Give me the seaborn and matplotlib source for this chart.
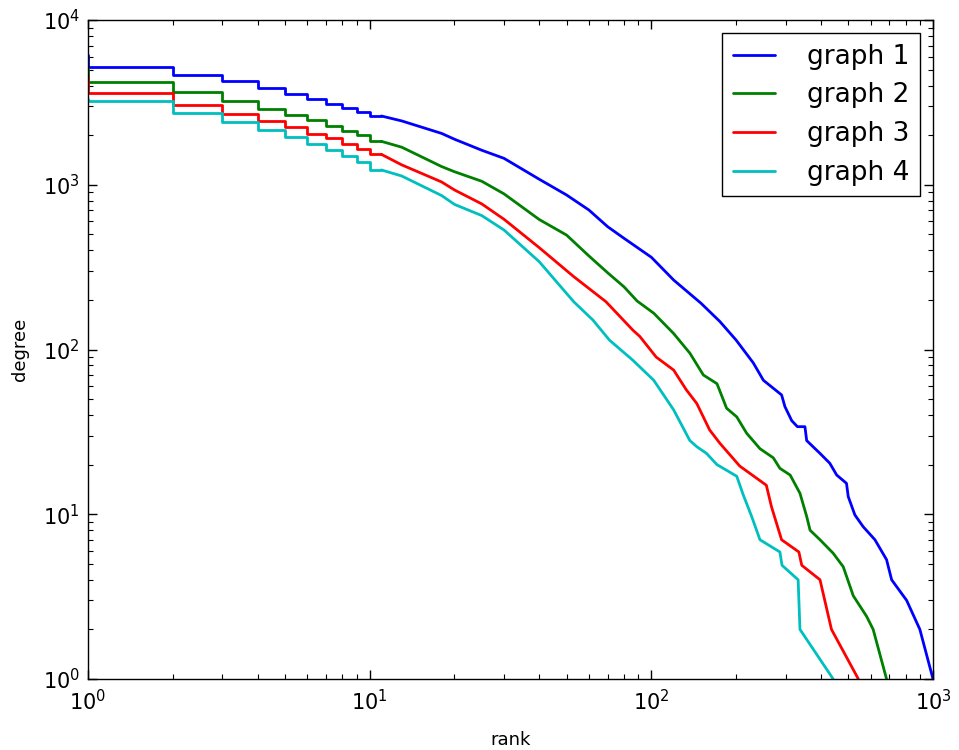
import matplotlib
matplotlib.use("Agg")
import matplotlib.pyplot as plt
import seaborn as sns

# rank / degree readings for the four graphs (log-log)
head_rank = list(range(1, 12))

g1_head = [6130, 5210, 4620, 4240, 3850, 3540, 3300, 3090, 2920, 2765, 2615]
g1_rank = [13, 18, 20, 25, 30, 40, 50, 60, 70, 80, 100, 120, 150, 175, 200, 230, 250, 290, 298, 315,
           330, 351, 356, 397, 430, 455, 493, 500, 528, 565, 622, 684, 713, 806, 898, 1000]
g1_deg = [2440, 2050, 1890, 1620, 1446, 1080, 867, 703, 556, 473, 363, 264, 191, 148, 114, 83, 65, 53, 45, 37,
          34, 34, 28, 23.4, 20.4, 17.3, 15.4, 12.8, 9.9, 8.4, 7.0, 5.3, 4.0, 3.0, 2.0, 1]

g2_head = [5040, 4180, 3635, 3220, 2875, 2650, 2460, 2280, 2127, 1995, 1835]
g2_rank = [13, 18, 20, 25, 30, 40, 50, 60, 70, 80, 89, 102, 120, 137, 153, 171, 185, 201, 218, 243,
           271, 286, 311, 337, 356, 366, 397, 442, 480, 521, 581, 613, 684]
g2_deg = [1690, 1290, 1200, 1050, 880, 615, 495, 370, 292, 240, 197, 166, 125, 95, 70, 62, 44, 39, 31, 25,
          22, 19, 17.3, 13.4, 9.7, 8.0, 7.0, 5.8, 4.8, 3.2, 2.4, 2.0, 1]

g3_head = [4510, 3590, 3035, 2687, 2427, 2231, 2040, 1913, 1775, 1648, 1530]
g3_rank = [13, 18, 20, 25, 30, 40, 53, 69, 86, 91, 104, 120, 133, 145, 161, 175, 206, 256, 267, 290,
           334, 342, 397, 436, 543]
g3_deg = [1320, 1040, 930, 765, 617, 415, 277, 195, 131, 120, 90, 75, 57, 47, 32.5, 27, 19.6, 15, 11.1, 7.0,
          5.9, 4.9, 4.0, 2.0, 1]

g4_head = [3300, 3235, 2710, 2393, 2138, 1940, 1775, 1625, 1495, 1370, 1230]
g4_rank = [13, 18, 20, 25, 30, 40, 53, 62, 71, 86, 102, 120, 137, 145, 157, 171, 201, 212, 227, 243,
           286, 291, 332, 337, 442]
g4_deg = [1130, 860, 760, 650, 531, 341, 195, 151, 114, 86, 65, 43, 28, 25.7, 23.4, 20, 17, 13.1, 9.7, 7.0,
          5.9, 4.9, 4.0, 2.0, 1]

labels = ["graph 1", "graph 2", "graph 3", "graph 4"]
colors = ["#0000ff", "#008000", "#ff0000", "#00bfbf"]

sns.set_theme(style="ticks", rc={
    "xtick.direction": "in", "ytick.direction": "in",
    "xtick.top": True, "ytick.right": True,
    "xtick.major.size": 6.5, "ytick.major.size": 6.5,
    "xtick.minor.size": 3.5, "ytick.minor.size": 3.5,
    "xtick.major.width": 1.0, "ytick.major.width": 1.0,
    "xtick.minor.width": 0.8, "ytick.minor.width": 0.8,
    "xtick.major.pad": 7, "ytick.major.pad": 6,
    "axes.edgecolor": "black", "axes.linewidth": 1.0,
    "text.color": "black", "axes.labelcolor": "black",
    "xtick.color": "black", "ytick.color": "black",
})
plt.rcParams["font.family"] = ["DejaVu Sans"]

fig = plt.figure(figsize=(9.59, 7.5), dpi=100)
ax = fig.add_axes([0.0918, 0.0947, 0.8811, 0.8786])
ax.set_xscale("log")
ax.set_yscale("log")

series = [
    (g1_head, g1_rank, g1_deg),
    (g2_head, g2_rank, g2_deg),
    (g3_head, g3_rank, g3_deg),
    (g4_head, g4_rank, g4_deg),
]
for (head, rank, deg), name, c in zip(series, labels, colors):
    # first ranks drawn as steps, rest as a line
    sns.lineplot(x=head_rank, y=head, drawstyle="steps-pre", color=c, lw=2,
                 estimator=None, label=name, ax=ax)
    sns.lineplot(x=[head_rank[-1]] + rank, y=[head[-1]] + deg, color=c, lw=2,
                 estimator=None, ax=ax)

ax.set_xlim(1, 1000)
ax.set_ylim(1, 10000)
ax.set_xlabel("rank", fontsize=13, labelpad=12)
ax.set_ylabel("degree", fontsize=13, labelpad=10)
ax.tick_params(axis="both", which="major", labelsize=15)

leg = ax.legend(loc="upper right", fontsize=19, fancybox=False, framealpha=1,
                edgecolor="black", borderaxespad=0.5, handlelength=1.6,
                handletextpad=1.2, labelspacing=0.48, borderpad=0.4)
leg.get_frame().set_linewidth(1.0)

fig.savefig("out.png", dpi=100)
